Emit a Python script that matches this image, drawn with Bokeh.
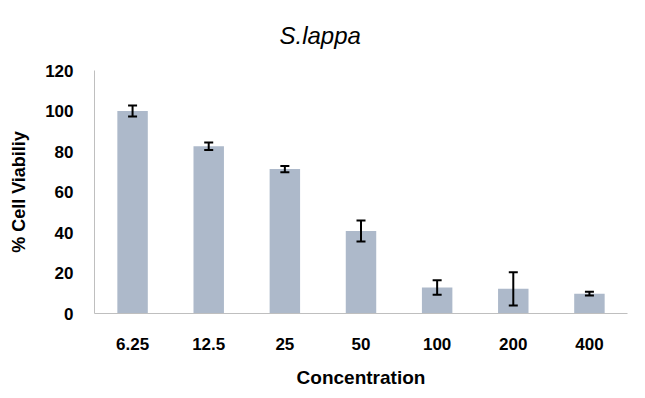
from bokeh.plotting import figure
from bokeh.models import ColumnDataSource, Whisker, TeeHead, Range1d, FactorRange
from bokeh.embed import file_html
from bokeh.resources import INLINE

concentrations = ["6.25", "12.5", "25", "50", "100", "200", "400"]
viability = [100.0, 82.6, 71.3, 40.7, 12.8, 12.2, 9.8]
errors = [2.7, 1.9, 1.6, 5.2, 3.6, 8.2, 0.9]
y_ticks = [0, 20, 40, 60, 80, 100, 120]

source = ColumnDataSource(data=dict(
    conc=concentrations,
    value=viability,
    upper=[v + e for v, e in zip(viability, errors)],
    lower=[v - e for v, e in zip(viability, errors)],
))

FONT = "Liberation Sans"

p = figure(
    x_range=FactorRange(factors=concentrations, range_padding=0),
    y_range=Range1d(0, 120),
    width=637, height=390,
    output_backend="svg", toolbar_location=None,
    title="S.lappa",
    min_border_left=94, min_border_right=10,
    min_border_top=70, min_border_bottom=76,
)

p.vbar(x="conc", top="value", width=0.4, source=source,
       fill_color="#ADB9CA", line_color=None)

w = Whisker(base="conc", upper="upper", lower="lower", source=source,
            line_color="black", line_width=2, level="overlay",
            upper_head=TeeHead(size=9, line_width=2, line_color="black"),
            lower_head=TeeHead(size=9, line_width=2, line_color="black"))
p.add_layout(w)

p.title.text_font = FONT
p.title.text_font_style = "italic"
p.title.text_font_size = "24px"
p.title.text_color = "black"
p.title.align = "left"
p.title.offset = 185
p.title.vertical_align = "middle"
p.title.standoff = 41

p.outline_line_color = None
p.xgrid.grid_line_color = None
p.ygrid.grid_line_color = None
p.background_fill_color = "white"
p.border_fill_color = "white"

p.yaxis.ticker = y_ticks
p.yaxis.axis_label = "% Cell Viabiliy"
p.xaxis.axis_label = "Concentration"

for ax in (p.xaxis[0], p.yaxis[0]):
    ax.axis_line_color = "#BFBFBF"
    ax.axis_line_width = 1
    ax.major_tick_line_color = None
    ax.minor_tick_line_color = None
    ax.major_tick_out = 0
    ax.major_tick_in = 0
    ax.major_label_text_font = FONT
    ax.major_label_text_font_style = "bold"
    ax.major_label_text_font_size = "17px"
    ax.major_label_text_color = "black"
    ax.axis_label_text_font = FONT
    ax.axis_label_text_font_style = "bold"
    ax.axis_label_text_font_size = "18px"
    ax.axis_label_text_color = "black"

p.xaxis.axis_label_text_font_size = "19px"
p.yaxis.major_label_standoff = 21
p.yaxis.axis_label_standoff = 13
p.xaxis.major_label_standoff = 24
p.xaxis.axis_label_standoff = 14

open("out.html", "w").write(file_html(p, INLINE))
